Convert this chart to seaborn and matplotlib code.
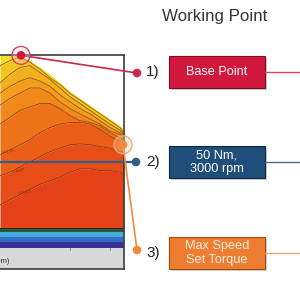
import matplotlib
matplotlib.use("Agg")
import matplotlib.pyplot as plt
from matplotlib.patches import Rectangle, Circle
import seaborn as sns

# ---------------- data ----------------
speed_rpm = [3800, 4300, 4800, 5300, 5800, 6300, 6800, 7300, 7800, 8300, 8800, 9300, 9800, 10000]
envelope_nm = [112, 112, 112, 109, 105, 101, 96, 91, 87, 83, 79, 75, 71, 69]
eff_line_1 = [106, 109, 111, 108, 104, 99, 95, 90, 86, 82, 78, 74, 70, 67]
eff_line_2 = [96, 101, 105, 106, 102, 98, 93, 88, 84, 80, 76, 72, 68.5, 66]
eff_line_3 = [90, 94, 97, 99, 97, 94, 89, 85, 81, 78, 74, 70, 67, 65]
eff_line_4 = [83, 87, 90, 93, 93, 90, 85, 81, 78, 75, 72, 68, 66, 64]
eff_line_5 = [72, 76, 80, 82, 84, 84, 81, 77, 74, 73, 71, 67, 64, 63]
eff_line_6 = [54, 57, 60, 63, 67, 70, 72, 73, 73, 72, 69, 65, 62, 61]
eff_line_7 = [42, 44, 47, 50, 53, 56, 58, 60, 60.5, 60, 59, 58, 56, 56]
eff_line_8 = [25, 28, 31, 34, 37, 39, 41, 44, 46, 46, 45, 45, 44, 43]
eff_lines = [eff_line_1, eff_line_2, eff_line_3, eff_line_4,
             eff_line_5, eff_line_6, eff_line_7, eff_line_8]
band_colors = ['#f3e225', '#f3c61f', '#f3b01d', '#f29d1c', '#f0891a',
               '#ee7318', '#eb5e17', '#e74d17', '#e5421a']
red_floor_nm = 11.9
low_band_edges = [0, 3.5, 6.4, 9.3, 11.0, 11.9]
low_band_colors = ['#3b3199', '#2f70c4', '#46a9dc', '#2b5a38', '#1c2a1c']
eff_label_text = ['0.9440', '0.9487', '0.9521']
eff_label_speed = [3850, 4400, 4700]
eff_label_nm = [56, 45, 32]

base_point = (4850, 112)
op_torque_nm = 50
max_speed_point = (9950, 60)

title = "Working Point"
numbers = ['1)', '2)', '3)']
box_labels = ['Base Point', '50 Nm,\n3000 rpm', 'Max Speed\nSet Torque']
box_colors = ['#d2173c', '#1f4e7a', '#ee7d32']
box_edges = ['#7a0c22', '#0d2640', '#9c4b14']
box_text_colors = ['#ffffff', '#ffffff', '#fdeede']
line_colors = ['#c8284a', '#2f5d88', '#f08a3c']
out_line_colors = ['#d44a62', '#45698f', '#f2a366']

# ---------------- figure ----------------
sns.set_theme(style='white')
plt.rcParams['font.family'] = ['Liberation Sans', 'DejaVu Sans']

fig = plt.figure(figsize=(3, 3), dpi=100)
ax = fig.add_axes([-76 / 300, 31 / 300, 200 / 300, 214 / 300])
ax.set_xlim(0, 10000)
ax.set_ylim(-12.2, 112.2)

# gray axis band
ax.axhspan(-12.2, 0, color='#d9d9d9', lw=0, zorder=0)
# low-torque bands
for lo, hi, c in zip(low_band_edges[:-1], low_band_edges[1:], low_band_colors):
    ax.fill_between(speed_rpm, lo, hi, color=c, lw=0, zorder=1)
# efficiency bands
uppers = [envelope_nm] + eff_lines
lowers = eff_lines + [[red_floor_nm] * len(speed_rpm)]
for up, lo, c in zip(uppers, lowers, band_colors):
    ax.fill_between(speed_rpm, lo, up, color=c, lw=0, zorder=2)
# contour lines
for ln in eff_lines:
    sns.lineplot(x=speed_rpm, y=ln, ax=ax, color='#7a2e0c', lw=0.6,
                 alpha=0.75, legend=False, zorder=3)
for t, xs, ys in zip(eff_label_text, eff_label_speed, eff_label_nm):
    ax.text(xs, ys, t, fontsize=3.2, color='#8a3010', rotation=12,
            ha='left', va='center', zorder=4)
# small ticks on axis band
for xt in [7300, 9300]:
    ax.plot([xt, xt], [0, -1.2], color='#777777', lw=0.6, zorder=4)
ax.text(4250, -8, 'Speed (rpm)', fontsize=5.5, color='#333333',
        ha='right', va='center', zorder=4)
ax.set_xticks([])
ax.set_yticks([])
ax.set_xlabel('')
ax.set_ylabel('')
for s in ax.spines.values():
    s.set_color('#3c3c3c')
    s.set_linewidth(1.2)
    s.set_visible(True)

# ---------------- overlay ----------------
ov = fig.add_axes([0, 0, 1, 1], zorder=5)
ov.set_xlim(0, 300)
ov.set_ylim(300, 0)
ov.axis('off')
ov.patch.set_alpha(0)


def to_px(x, y):
    return ov.transData.inverted().transform(ax.transData.transform((x, y)))


ov.text(215, 17, title, fontsize=12.2, color='#333333', ha='center', va='center')

row_y = [72, 162, 253]
dot_pos = [(137, 73), (136, 162), (137, 250)]

bp = to_px(*base_point)
msp = to_px(*max_speed_point)
op_y = to_px(speed_rpm[0], op_torque_nm)[1]

# connector lines
ov.plot([bp[0], dot_pos[0][0]], [bp[1], dot_pos[0][1]], color=line_colors[0], lw=1.2, zorder=2)
ov.plot([-2, dot_pos[1][0]], [op_y, dot_pos[1][1]], color=line_colors[1], lw=1.6, zorder=2)
ov.plot([msp[0], dot_pos[2][0]], [msp[1], dot_pos[2][1]], color=line_colors[2], lw=1.2, zorder=2)

# rings
ov.add_patch(Circle(bp, 9, facecolor='#f6c0c8', alpha=0.35, edgecolor='none', zorder=3))
ov.add_patch(Circle(bp, 9, facecolor='none', edgecolor='#c8405a', lw=0.9, zorder=3))
ov.add_patch(Circle(msp, 9, facecolor='#fbd0b0', alpha=0.35, edgecolor='none', zorder=3))
ov.add_patch(Circle(msp, 9, facecolor='none', edgecolor='#f2a36a', lw=0.9, zorder=3))
ov.add_patch(Circle(bp, 4.3, facecolor='#d2163e', edgecolor='none', zorder=4))
ov.add_patch(Circle(msp, 4.3, facecolor='#f08a3c', edgecolor='none', zorder=4))

for (dx, dy), c in zip(dot_pos, line_colors):
    ov.add_patch(Circle((dx, dy), 4.3, facecolor=c, edgecolor='none', zorder=4))

# numbers and boxes
for i in range(3):
    yc = row_y[i]
    ov.text(146, yc, numbers[i], fontsize=11, color='#222222', ha='left', va='center')
    ov.add_patch(Rectangle((171, yc - 14), 96, 32, facecolor='#9a9a9a', alpha=0.45,
                           edgecolor='none', zorder=1))
    ov.add_patch(Rectangle((169, yc - 16), 96, 32, facecolor=box_colors[i],
                           edgecolor=box_edges[i], lw=0.8, zorder=2))
    ov.text(217, yc, box_labels[i], fontsize=9.2, color=box_text_colors[i],
            ha='center', va='center', linespacing=1.15, zorder=3)
    ov.plot([265, 300], [yc, yc], color=out_line_colors[i], lw=1.0, zorder=2)

fig.savefig('out.png', dpi=100)
